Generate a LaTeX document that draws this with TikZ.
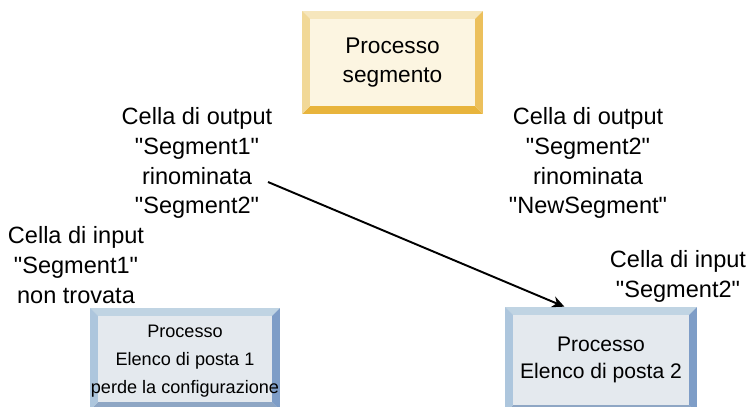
\documentclass[tikz,border=0pt]{standalone}
\usepackage{fontspec}
\setmainfont{Liberation Sans}
\usepackage{tikz}
\usetikzlibrary{arrows.meta, positioning, calc}
\definecolor{segfill}{HTML}{FCF5E1}
\definecolor{segtop}{HTML}{F6E6BC}
\definecolor{segleft}{HTML}{F1D897}
\definecolor{segright}{HTML}{ECC05C}
\definecolor{segbot}{HTML}{E8B43C}
\definecolor{procfill}{HTML}{E4E9EE}
\definecolor{proctop}{HTML}{C0D4E3}
\definecolor{procleft}{HTML}{ADC6DD}
\definecolor{procright}{HTML}{7E9DC7}
\definecolor{procbot}{HTML}{8EA6C4}
\def\bv{4.5pt}
\newcommand{\q}[1]{\textquotedbl#1\textquotedbl}

\begin{document}
\begin{tikzpicture}[
    x=0.02cm, y=-0.02cm,
    bevelbox/.style n args={5}{fill=#1, inner sep=0pt, align=center,
        path picture={
            \fill[#2] (path picture bounding box.north west) -- (path picture bounding box.north east)
                -- ++(-\bv,-\bv) -- ($(path picture bounding box.north west)+(\bv,-\bv)$) -- cycle;
            \fill[#5] (path picture bounding box.south west) -- (path picture bounding box.south east)
                -- ++(-\bv,\bv) -- ($(path picture bounding box.south west)+(\bv,\bv)$) -- cycle;
            \fill[#3] (path picture bounding box.north west) -- (path picture bounding box.south west)
                -- ++(\bv,\bv) -- ($(path picture bounding box.north west)+(\bv,-\bv)$) -- cycle;
            \fill[#4] (path picture bounding box.north east) -- (path picture bounding box.south east)
                -- ++(-\bv,\bv) -- ($(path picture bounding box.north east)+(-\bv,-\bv)$) -- cycle;
        }},
    segbox/.style={bevelbox={segfill}{segtop}{segleft}{segright}{segbot}},
    procbox/.style={bevelbox={procfill}{proctop}{procleft}{procright}{procbot}},
    note/.style={align=center, inner sep=0pt, font=\fontsize{13.4}{17}\selectfont}
]
    \useasboundingbox (0,0) rectangle (750,406);
    \clip (0,0) rectangle (750,406);

    % --- boxes (the two lower ones run past the bottom edge) ---
    \node[segbox, minimum width=3.62cm, minimum height=2.06cm,
          font=\fontsize{12.9}{16.3}\selectfont] (seg) at (392.5,62.5) {Processo\\segmento};
    \node[procbox, minimum width=3.8cm, minimum height=2.04cm,
          font=\fontsize{10.3}{15.9}\selectfont, text depth=0pt] (post1) at (185,359)
          {Processo\\Elenco di posta 1\\perde la configurazione};
    \node[procbox, minimum width=3.84cm, minimum height=2.12cm,
          font=\fontsize{12}{15.3}\selectfont] (post2) at (601,360)
          {Processo\\Elenco di posta 2};

    % --- cell notes ---
    \node[note] (out1) at (197,163) {Cella di output\\\q{Segment1}\\rinominata\\\q{Segment2}};
    \node[note] (out2) at (588,163) {Cella di output\\\q{Segment2}\\rinominata\\\q{NewSegment}};
    \node[note] (in1) at (76,265) {Cella di input\\\q{Segment1}\\non trovata};
    \node[note] (in2) at (678,276) {Cella di input\\\q{Segment2}};

    % --- rename arrow ---
    \coordinate (from) at (268,182);
    \draw[line width=1.1pt, -{Stealth[length=7pt, width=6.5pt]}]
        (from) -- ($(post2.north west)!0.31!(post2.north east)$);
\end{tikzpicture}
\end{document}
